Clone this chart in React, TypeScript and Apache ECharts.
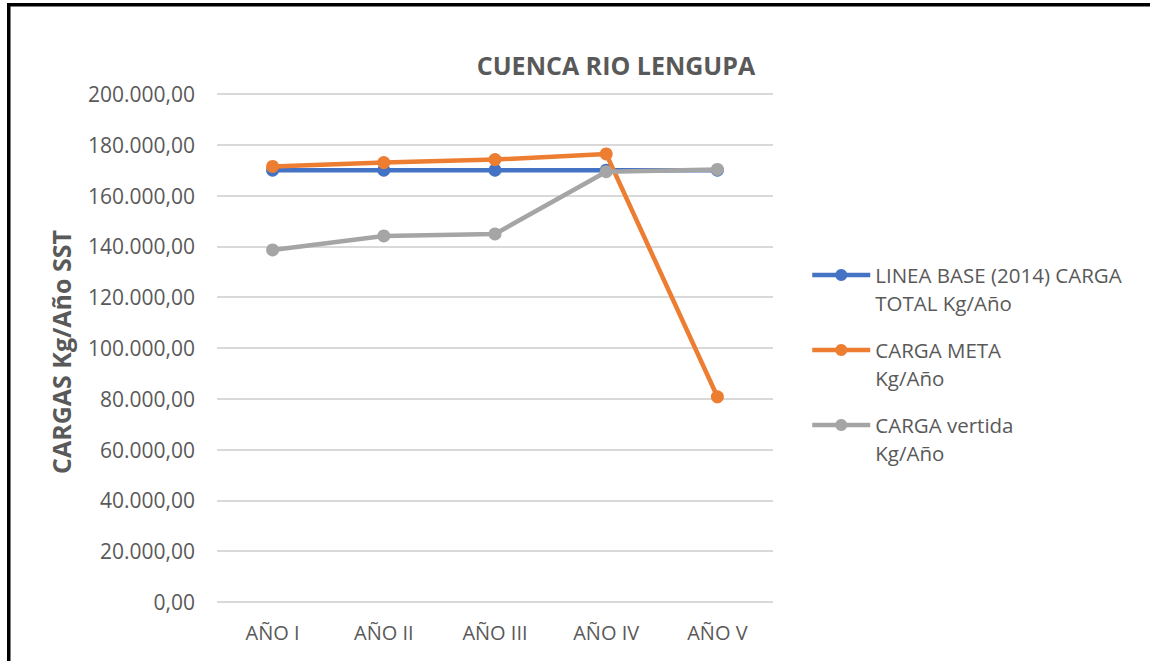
import React, { useEffect, useRef } from "react";
import * as echarts from "echarts";

const categories = ["AÑO I", "AÑO II", "AÑO III", "AÑO IV", "AÑO V"];
const seriesNames = [
  "LINEA BASE (2014) CARGA\nTOTAL Kg/Año",
  "CARGA META\nKg/Año",
  "CARGA vertida\nKg/Año",
];
const lineaBase = [170000, 170000, 170000, 170000, 170000];
const cargaMeta = [171500, 173000, 174200, 176400, 80800];
const cargaVertida = [138600, 144100, 144900, 169400, 170300];
const colors = ["#4472C4", "#ED7D31", "#A5A5A5"];
const titleText = "CUENCA RIO LENGUPA";
const yAxisTitle = "CARGAS Kg/Año SST";

const FONT = "'Open Sans', 'Noto Sans', sans-serif";

function fmt(v: number): string {
  const s = Math.round(v)
    .toString()
    .replace(/\B(?=(\d{3})+(?!\d))/g, ".");
  return s + ",00";
}

export default function App() {
  const ref = useRef<HTMLDivElement>(null);
  useEffect(() => {
    if (!ref.current) return;
    const chart = echarts.init(ref.current, undefined, { renderer: "svg" });
    const data = [lineaBase, cargaMeta, cargaVertida];
    chart.setOption({
      animation: false,
      backgroundColor: "#ffffff",
      textStyle: { fontFamily: FONT },
      grid: { left: 217, right: 377, top: 94, bottom: 59, containLabel: false },
      legend: {
        orient: "vertical",
        left: 810,
        top: 233,
        padding: 0,
        itemWidth: 58,
        itemHeight: 15,
        itemGap: -9,
        data: seriesNames,
        formatter: (name: string) => "\n" + name,
        lineStyle: { width: 4.5 },
        textStyle: {
          fontFamily: FONT,
          fontSize: 20.5,
          color: "#595959",
          lineHeight: 28,
        },
      },
      xAxis: {
        type: "category",
        data: categories,
        boundaryGap: true,
        axisLine: { show: false },
        axisTick: { show: false },
        axisLabel: { color: "#595959", fontSize: 20, margin: 20, fontFamily: FONT },
        splitLine: { show: false },
      },
      yAxis: {
        type: "value",
        min: 0,
        max: 200000,
        interval: 20000,
        axisLine: { show: false },
        axisTick: { show: false },
        axisLabel: {
          color: "#595959",
          fontSize: 21,
          margin: 22,
          fontFamily: FONT,
          formatter: (v: number) => fmt(v),
        },
        splitLine: { lineStyle: { color: "#D9D9D9", width: 2 } },
      },
      series: seriesNames.map((name, i) => ({
        name,
        type: "line",
        data: data[i],
        symbol: "circle",
        symbolSize: 13,
        lineStyle: { color: colors[i], width: 4.5 },
        itemStyle: { color: colors[i] },
        z: 2 + i,
      })),
      graphic: [
        {
          type: "rect",
          shape: { x: 7, y: 3, width: 1143, height: 3.5 },
          style: { fill: "#000000" },
        },
        {
          type: "rect",
          shape: { x: 7, y: 3, width: 3.5, height: 658 },
          style: { fill: "#000000" },
        },
        {
          type: "text",
          x: 616,
          y: 65,
          style: {
            text: titleText,
            fill: "#595959",
            font: `bold 25px ${FONT}`,
            textAlign: "center",
            textVerticalAlign: "middle",
          },
        },
        {
          type: "text",
          x: 61,
          y: 352,
          rotation: Math.PI / 2,
          style: {
            text: yAxisTitle,
            fill: "#595959",
            font: `bold 25px ${FONT}`,
            textAlign: "center",
            textVerticalAlign: "middle",
          },
        },
      ],
    });
    return () => chart.dispose();
  }, []);
  return (
    <div
      ref={ref}
      style={{ position: "absolute", left: 0, top: 0, width: 1150, height: 661 }}
    />
  );
}
